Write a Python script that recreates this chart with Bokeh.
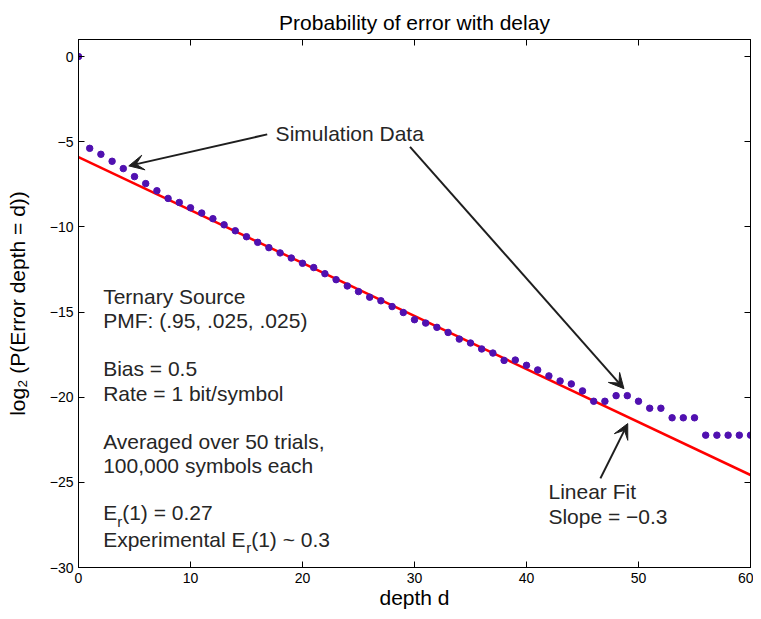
from bokeh.plotting import figure
from bokeh.models import Arrow, VeeHead, Label, LinearAxis, FixedTicker, Range1d
from bokeh.embed import file_html
from bokeh.resources import INLINE

# ---------------- data ----------------
depth = list(range(0, 61))
log2_p_error = [0.0,
    -5.39, -5.74, -6.15, -6.58, -7.05, -7.46, -7.88, -8.33, -8.57, -8.88,
    -9.19, -9.52, -9.88, -10.23, -10.58, -10.91, -11.22, -11.53, -11.83, -12.14,
    -12.39, -12.75, -13.10, -13.47, -13.80, -14.13, -14.34, -14.68, -15.03, -15.45,
    -15.65, -15.90, -16.20, -16.59, -16.82, -17.17, -17.41, -17.84, -17.82, -18.13,
    -18.40, -18.75, -19.05, -19.22, -19.63, -20.24, -20.24, -19.91, -19.91, -20.24,
    -20.65, -20.65, -21.21, -21.21, -21.21, -22.23, -22.23, -22.23, -22.23, -22.23]
fit_x = [0, 60]
fit_y = [-5.9, -24.57]

x_ticks = [0, 10, 20, 30, 40, 50, 60]
x_tick_labels = ["0", "10", "20", "30", "40", "50", "60"]
y_ticks = [-30, -25, -20, -15, -10, -5, 0]
y_tick_labels = ["\u221230", "\u221225", "\u221220", "\u221215", "\u221210", "\u22125", "0"]

FONT = "Liberation Sans"
TXT = "21px"
TXT_COLOR = "#262626"

p = figure(width=753, height=611, output_backend="svg", toolbar_location=None,
           x_range=Range1d(0, 60), y_range=Range1d(-30, 1),
           min_border_left=78, min_border_right=3, min_border_top=39, min_border_bottom=42,
           title="Probability of error with delay")
p.background_fill_color = "white"
p.border_fill_color = "white"
p.xgrid.visible = False
p.ygrid.visible = False
p.outline_line_color = "black"
p.outline_line_width = 1

p.title.align = "center"
p.title.text_font = FONT
p.title.text_font_size = TXT
p.title.text_font_style = "normal"
p.title.text_color = "black"
p.title.standoff = 11

def style_axis(ax, ticks, labels, show_labels=True):
    ax.ticker = FixedTicker(ticks=ticks)
    ax.major_tick_in = 6
    ax.major_tick_out = 0
    ax.minor_tick_in = 0
    ax.minor_tick_out = 0
    ax.axis_line_color = "black"
    ax.major_tick_line_color = "black"
    ax.major_label_text_font = FONT
    if show_labels:
        ax.major_label_overrides = {t: l for t, l in zip(ticks, labels)}
        ax.major_label_text_color = "black"
        ax.major_label_text_font_size = "14px"
        ax.major_label_standoff = 5
    else:
        ax.major_label_text_color = None
        ax.major_label_text_font_size = "1px"
        ax.major_label_standoff = 0

style_axis(p.xaxis[0], x_ticks, x_tick_labels)
style_axis(p.yaxis[0], y_ticks, y_tick_labels)
p.xaxis.major_label_standoff = 5
p.xaxis.axis_label = "depth d"
p.yaxis.axis_label = "log\u2082 (P(Error depth = d))"
for ax in (p.xaxis[0], p.yaxis[0]):
    ax.axis_label_text_font = FONT
    ax.axis_label_text_font_size = TXT
    ax.axis_label_text_font_style = "normal"
    ax.axis_label_text_color = "black"
p.xaxis.axis_label_standoff = 0
p.yaxis.axis_label_standoff = 18

top_ax = LinearAxis()
style_axis(top_ax, x_ticks, x_tick_labels, show_labels=False)
p.add_layout(top_ax, "above")
right_ax = LinearAxis()
style_axis(right_ax, y_ticks, y_tick_labels, show_labels=False)
p.add_layout(right_ax, "right")

# ---------------- glyphs ----------------
p.line(fit_x, fit_y, line_color="#ff0000", line_width=2.5)
p.scatter(depth, log2_p_error, size=6.5, fill_color="#5010b0", line_color="#5010b0")

# ---------------- arrows ----------------
def arrow(x0, y0, x1, y1):
    p.add_layout(Arrow(x_start=x0, y_start=y0, x_end=x1, y_end=y1,
                       line_color="#1e1e1e", line_width=2,
                       end=VeeHead(size=15, fill_color="#1e1e1e", line_color="#1e1e1e", line_width=1)))

arrow(16.85, -4.57, 4.49, -6.42)
arrow(29.6, -5.3, 48.7, -19.5)
arrow(46.6, -24.77, 49.04, -21.55)

# ---------------- text ----------------
def label(x, y, text, x_offset=0, size=TXT):
    p.add_layout(Label(x=x, y=y, text=text, x_offset=x_offset, text_font=FONT,
                       text_font_size=size, text_color=TXT_COLOR, text_baseline="middle",
                       text_align="left"))

label(17.6, -4.51, "Simulation Data")
label(41.96, -25.53, "Linear Fit")
label(41.96, -26.99, "Slope = \u22120.3")

LX = 2.2
label(LX, -14.11, "Ternary Source")
label(LX, -15.52, "PMF: (.95, .025, .025)")
label(LX, -18.33, "Bias = 0.5")
label(LX, -19.79, "Rate = 1 bit/symbol")
label(LX, -22.6, "Averaged over 50 trials,")
label(LX, -24.0, "100,000 symbols each")

label(LX, -26.8, "E")
label(LX, -27.3, "r", x_offset=14, size="15px")
label(LX, -26.8, "(1) = 0.27", x_offset=19)
label(LX, -28.34, "Experimental E")
label(LX, -28.84, "r", x_offset=143, size="15px")
label(LX, -28.34, "(1) ~ 0.3", x_offset=148)

open("out.html", "w").write(file_html(p, INLINE))
